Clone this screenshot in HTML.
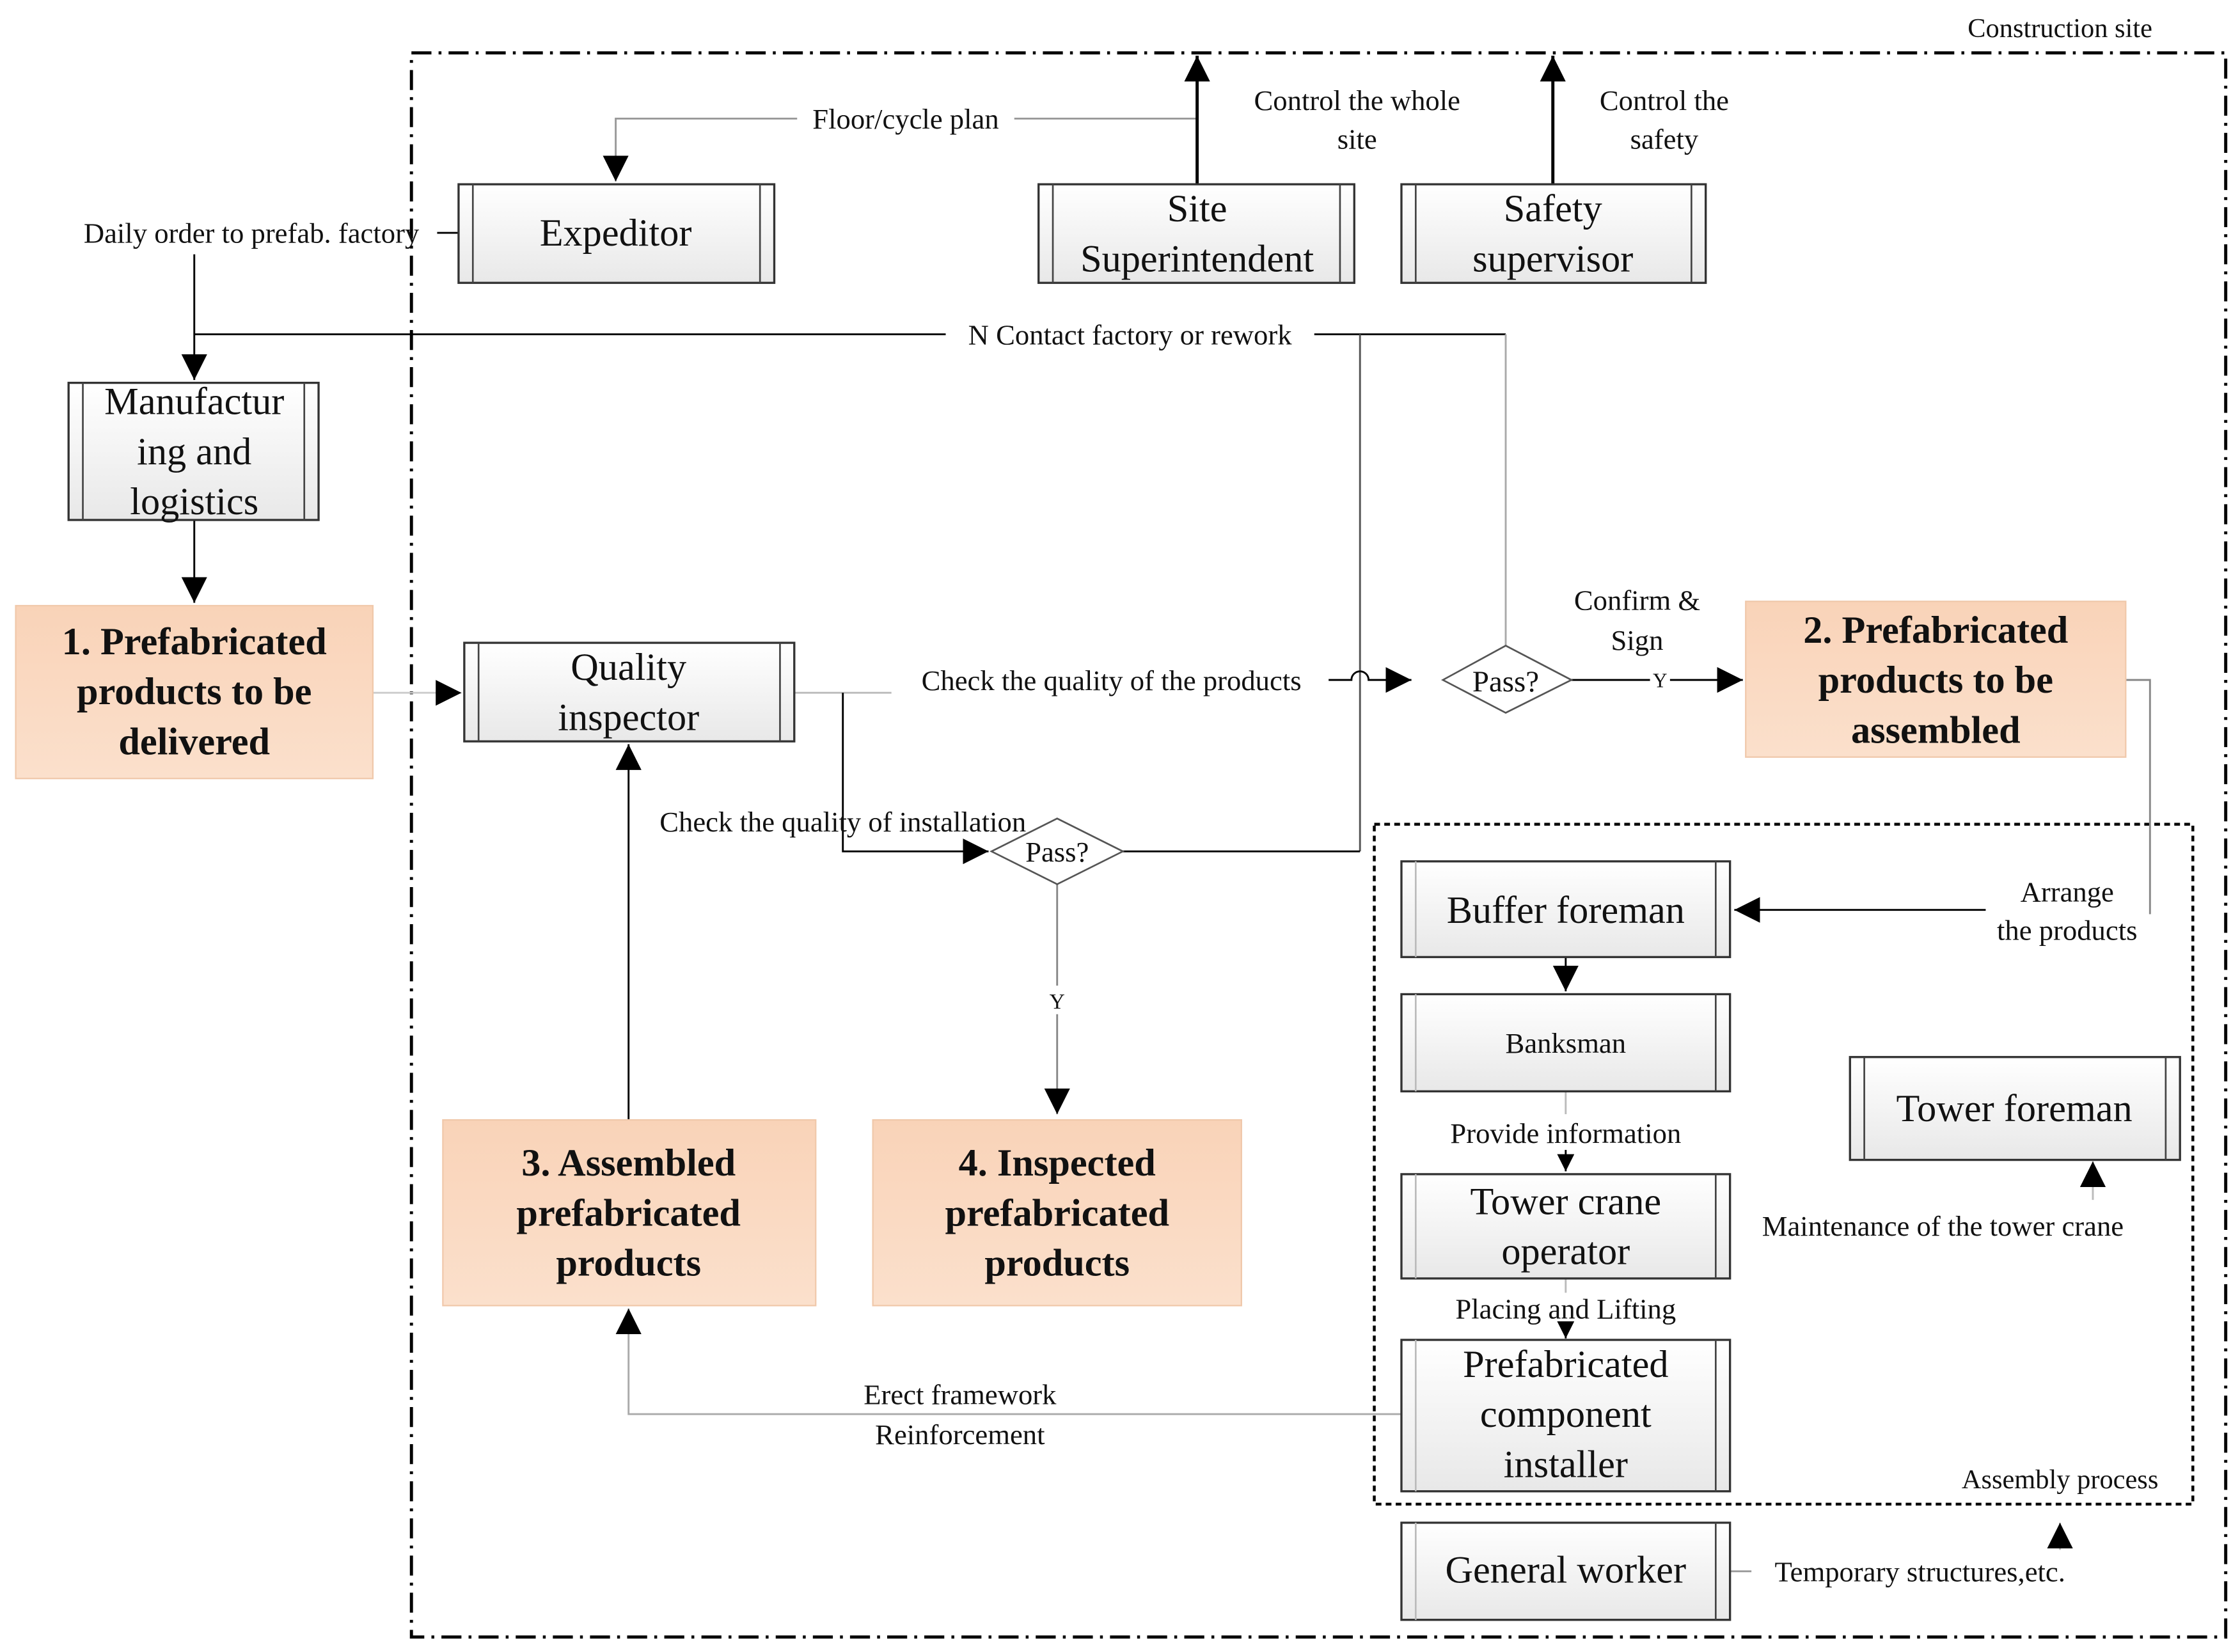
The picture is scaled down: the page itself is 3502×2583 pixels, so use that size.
<!DOCTYPE html>
<html><head><meta charset="utf-8"><style>
html,body{margin:0;padding:0;background:#fff;}
svg{display:block;}
svg text{font-family:"Liberation Serif","Times New Roman",serif;fill:#111;}
</style></head><body>
<svg width="3502" height="2583" viewBox="0 0 1568 1156.5" xmlns="http://www.w3.org/2000/svg" font-family="Liberation Serif, serif">
<defs>
<linearGradient id="g" x1="0" y1="0" x2="0" y2="1"><stop offset="0" stop-color="#ffffff"/><stop offset="1" stop-color="#e8e8e8"/></linearGradient>
<linearGradient id="o" x1="0" y1="0" x2="0" y2="1"><stop offset="0" stop-color="#f9d3b8"/><stop offset="1" stop-color="#fbe0cc"/></linearGradient>
<marker id="a" viewBox="0 0 10 10" refX="10" refY="5" markerWidth="18" markerHeight="18" markerUnits="userSpaceOnUse" orient="auto"><path d="M0,0 L10,5 L0,10z" fill="#000"/></marker>
<marker id="s" viewBox="0 0 10 10" refX="10" refY="5" markerWidth="12" markerHeight="12" markerUnits="userSpaceOnUse" orient="auto"><path d="M0,0 L10,5 L0,10z" fill="#000"/></marker>
</defs>
<rect x="0" y="0" width="1568" height="1157" fill="#fff"/>
<rect x="288" y="37" width="1270" height="1109" fill="none" stroke="#000" stroke-width="2.2" stroke-dasharray="14,5,2,5"/>
<text x="1442" y="26" font-size="19" text-anchor="middle">Construction site</text>
<rect x="962" y="577" width="573" height="476" fill="none" stroke="#000" stroke-width="2" stroke-dasharray="4,3"/>
<text x="1442" y="1042" font-size="19" text-anchor="middle">Assembly process</text>

<g stroke="#000" stroke-width="1.3" fill="none">
<polyline points="838,83 431,83 431,127" stroke="#999" marker-end="url(#a)"/>
<line x1="838" y1="129" x2="838" y2="39" stroke-width="2.2" marker-end="url(#a)"/>
<line x1="1087" y1="129" x2="1087" y2="39" stroke-width="2.2" marker-end="url(#a)"/>
<line x1="306" y1="163" x2="321" y2="163"/>
<polyline points="136,178 136,266" marker-end="url(#a)"/>
<line x1="136" y1="234" x2="1054" y2="234"/>
<line x1="1054" y1="234" x2="1054" y2="453" stroke="#aaa"/>
<line x1="952" y1="234" x2="952" y2="596" stroke="#555"/>
<line x1="136" y1="364" x2="136" y2="422" marker-end="url(#a)"/>
<line x1="261" y1="485" x2="323" y2="485" stroke="#ccc" marker-end="url(#a)"/>
<path d="M556,485 L640,485" stroke="#bbb"/>
<path d="M930,476 L946,476 A6,6 0 0 1 958,476 L988,476" marker-end="url(#a)"/>
<line x1="1100" y1="476" x2="1220" y2="476" marker-end="url(#a)"/>
<polyline points="1488,476 1505,476 1505,640" stroke="#888"/>
<line x1="1390" y1="637" x2="1214" y2="637" marker-end="url(#a)"/>
<polyline points="590,485 590,596 692,596" marker-end="url(#a)"/>
<polyline points="786,596 952,596"/>
<line x1="740" y1="619" x2="740" y2="780" stroke="#888" marker-end="url(#a)"/>
<line x1="440" y1="784" x2="440" y2="521" marker-end="url(#a)"/>
<polyline points="981,990 440,990 440,916" stroke="#aaa" marker-end="url(#a)"/>
<line x1="1096" y1="670" x2="1096" y2="694" marker-end="url(#a)"/>
<line x1="1096" y1="764" x2="1096" y2="780" stroke="#bbb"/>
<line x1="1096" y1="805" x2="1096" y2="820" marker-end="url(#s)"/>
<line x1="1096" y1="895" x2="1096" y2="905" stroke="#bbb"/>
<line x1="1096" y1="928" x2="1096" y2="937" marker-end="url(#s)"/>
<line x1="1465" y1="840" x2="1465" y2="813" stroke="#bbb" marker-end="url(#a)"/>
<line x1="1211" y1="1100" x2="1226" y2="1100" stroke="#999"/>
<line x1="1442" y1="1085" x2="1442" y2="1066" stroke="#bbb" marker-end="url(#a)"/>
</g>

<polygon points="1010,476 1054,452 1100,476 1054,499" fill="#fff" stroke="#555" stroke-width="1.2"/>
<text x="1054" y="484" font-size="21" text-anchor="middle">Pass?</text>
<polygon points="694,596 740,573 786,596 740,619" fill="#fff" stroke="#555" stroke-width="1.2"/>
<text x="740" y="603" font-size="20" text-anchor="middle">Pass?</text>

<g stroke="#333" stroke-width="1.5" fill="url(#g)">
<rect x="321" y="129" width="221" height="69"/>
<rect x="727" y="129" width="221" height="69"/>
<rect x="981" y="129" width="213" height="69"/>
<rect x="48" y="268" width="175" height="96"/>
<rect x="325" y="450" width="231" height="69"/>
<rect x="981" y="603" width="230" height="67"/>
<rect x="981" y="696" width="230" height="68"/>
<rect x="981" y="822" width="230" height="73"/>
<rect x="981" y="938" width="230" height="106"/>
<rect x="981" y="1066" width="230" height="68"/>
<rect x="1295" y="740" width="231" height="72"/>
</g>
<g stroke="#444" stroke-width="1.2">
<line x1="331" y1="129" x2="331" y2="198"/><line x1="532" y1="129" x2="532" y2="198"/>
<line x1="737" y1="129" x2="737" y2="198"/><line x1="938" y1="129" x2="938" y2="198"/>
<line x1="991" y1="129" x2="991" y2="198"/><line x1="1184" y1="129" x2="1184" y2="198"/>
<line x1="58" y1="268" x2="58" y2="364"/><line x1="213" y1="268" x2="213" y2="364"/>
<line x1="335" y1="450" x2="335" y2="519"/><line x1="546" y1="450" x2="546" y2="519"/>
<line x1="991" y1="603" x2="991" y2="670" stroke="#bbb"/><line x1="1201" y1="603" x2="1201" y2="670"/>
<line x1="991" y1="696" x2="991" y2="764" stroke="#bbb"/><line x1="1201" y1="696" x2="1201" y2="764"/>
<line x1="991" y1="822" x2="991" y2="895" stroke="#bbb"/><line x1="1201" y1="822" x2="1201" y2="895"/>
<line x1="991" y1="938" x2="991" y2="1044" stroke="#bbb"/><line x1="1201" y1="938" x2="1201" y2="1044"/>
<line x1="991" y1="1066" x2="991" y2="1134" stroke="#bbb"/><line x1="1201" y1="1066" x2="1201" y2="1134"/>
<line x1="1305" y1="740" x2="1305" y2="812"/><line x1="1516" y1="740" x2="1516" y2="812"/>
</g>

<g fill="url(#o)" stroke="#f0c8aa" stroke-width="1">
<rect x="11" y="424" width="250" height="121"/>
<rect x="1222" y="421" width="266" height="109"/>
<rect x="310" y="784" width="261" height="130"/>
<rect x="611" y="784" width="258" height="130"/>
</g>
<g font-size="27" font-weight="bold" text-anchor="middle">
<text x="136" y="458">1. Prefabricated</text><text x="136" y="493">products to be</text><text x="136" y="528">delivered</text>
<text x="1355" y="450">2. Prefabricated</text><text x="1355" y="485">products to be</text><text x="1355" y="520">assembled</text>
<text x="440" y="823">3. Assembled</text><text x="440" y="858">prefabricated</text><text x="440" y="893">products</text>
<text x="740" y="823">4. Inspected</text><text x="740" y="858">prefabricated</text><text x="740" y="893">products</text>
</g>

<g font-size="27" text-anchor="middle">
<text x="431" y="172">Expeditor</text>
<text x="838" y="155">Site</text><text x="838" y="190">Superintendent</text>
<text x="1087" y="155">Safety</text><text x="1087" y="190">supervisor</text>
<text x="136" y="290">Manufactur</text><text x="136" y="325">ing and</text><text x="136" y="360">logistics</text>
<text x="440" y="476">Quality</text><text x="440" y="511">inspector</text>
<text x="1096" y="646">Buffer foreman</text>
<text x="1096" y="737" font-size="20">Banksman</text>
<text x="1096" y="850">Tower crane</text><text x="1096" y="885">operator</text>
<text x="1096" y="964">Prefabricated</text><text x="1096" y="999">component</text><text x="1096" y="1034">installer</text>
<text x="1096" y="1108">General worker</text>
<text x="1410" y="785">Tower foreman</text>
</g>

<g font-size="20" text-anchor="middle">
<rect x="558" y="72" width="152" height="22" fill="#fff"/>
<text x="634" y="90">Floor/cycle plan</text>
<text x="950" y="77">Control the whole</text><text x="950" y="104">site</text>
<text x="1165" y="77">Control the</text><text x="1165" y="104">safety</text>
<text x="176" y="170">Daily order to prefab. factory</text>
<rect x="662" y="222" width="258" height="24" fill="#fff"/>
<text x="791" y="241">N Contact factory or rework</text>
<rect x="624" y="464" width="306" height="24" fill="#fff"/>
<text x="778" y="483">Check the quality of the products</text>
<text x="1146" y="427">Confirm &amp;</text><text x="1146" y="455">Sign</text>
<rect x="1155" y="466" width="14" height="18" fill="#fff"/>
<text x="1162" y="481" font-size="14">Y</text>
<text x="590" y="582">Check the quality of installation</text>
<rect x="732" y="690" width="16" height="20" fill="#fff"/>
<text x="740" y="706" font-size="15">Y</text>
<text x="1447" y="631">Arrange</text><text x="1447" y="658">the products</text>
<text x="1096" y="800">Provide information</text>
<text x="1096" y="923">Placing and Lifting</text>
<text x="1360" y="865">Maintenance of the tower crane</text>
<text x="672" y="983">Erect framework</text><text x="672" y="1011">Reinforcement</text>
<text x="1344" y="1107">Temporary structures,etc.</text>
</g>
</svg>
</body></html>
